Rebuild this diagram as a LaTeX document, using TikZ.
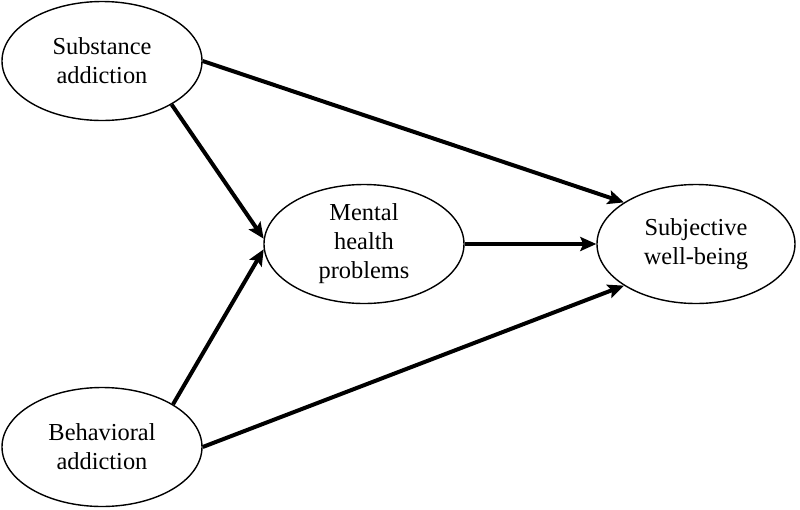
\documentclass[tikz,border=0pt]{standalone}
\usepackage{fontspec}
\setmainfont{Liberation Serif}
\usetikzlibrary{shapes.geometric,arrows.meta}

\begin{document}
\begin{tikzpicture}[x=0.5pt, y=-0.5pt,
  construct/.style={ellipse, draw, line width=0.7pt, minimum width=100pt, minimum height=59.5pt, inner sep=0pt, align=center, font=\fontsize{12.2}{14.5}\selectfont},
  effect/.style={-{Stealth[length=8pt, width=7pt, inset=1.5pt]}, line width=2pt}]
\useasboundingbox (0,0) rectangle (800,510);
\node (substance) [construct] at (102,61) {Substance\\addiction};
\node (behavioral) [construct] at (102,447) {Behavioral\\addiction};
\node (mental) [construct] at (364,244) {Mental\\health\\problems};
\node (wellbeing) [construct, minimum width=99pt] at (696,244) {Subjective\\well-being};

\draw[effect] (substance.east) -- (wellbeing.150);
\draw[effect] (substance.328) -- (mental.177);
\draw[effect] (behavioral.31) -- (mental.183);
\draw[effect] (mental.east) -- (wellbeing.west);
\draw[effect] (behavioral.east) -- (wellbeing.210);
\end{tikzpicture}
\end{document}
